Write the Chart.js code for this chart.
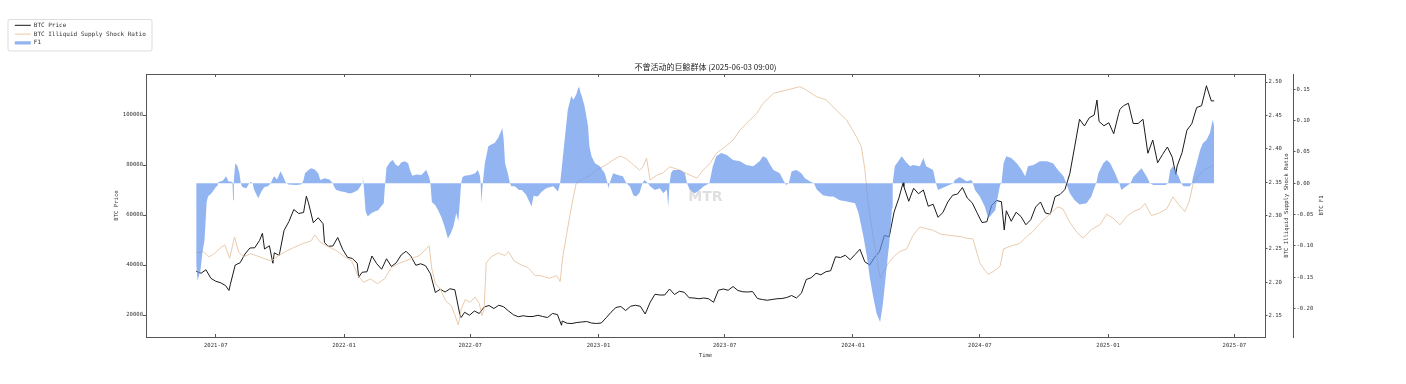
<!DOCTYPE html>
<html>
<head>
<meta charset="utf-8">
<script src="https://cdn.jsdelivr.net/npm/chart.js@4.4.1/dist/chart.umd.min.js"></script>
<style>
html,body{margin:0;padding:0;background:#fff;}
#wrap{width:1406px;height:384px;}
</style>
</head>
<body>
<div id="wrap"><canvas id="c" width="1406" height="384"></canvas></div>
<script>
// ---------------- data ----------------
const chartTitle = '不曾活动的巨鲸群体 (2025-06-03 09:00)';
const seriesNames = ['BTC Price', 'BTC Illiquid Supply Shock Ratio', 'F1'];
const axisTitles = { x: 'Time', price: 'BTC Price', ratio: 'BTC Illiquid Supply Shock Ratio', f1: 'BTC F1' };
const watermark = 'MTR';

// x values are days counted from baseDate
const baseDate = '2021-07-01';
const xTickLabels = ['2021-07','2022-01','2022-07','2023-01','2023-07','2024-01','2024-07','2025-01','2025-07'];
const priceTicks = [20000, 40000, 60000, 80000, 100000];
const ratioTicks = [2.15, 2.20, 2.25, 2.30, 2.35, 2.40, 2.45, 2.50];
const f1Ticks = [-0.20, -0.15, -0.10, -0.05, 0.00, 0.05, 0.10, 0.15];

// BTC price, weekly from 2021-06-03 (day -28)
const priceFirstDay = -28;
const priceStepDays = 7;
const priceWeekly = [
  37500, 36700, 38100, 34700, 33500, 32900, 31800, 32300, 40000, 40900, 44400, 46800, 46900, 49900, 46400, 47700,
  44900, 43800, 53800, 57400, 62200, 60600, 61000, 64900, 56900, 58900, 56500, 47500, 47600, 51000, 46300,
  43100, 42600, 40700, 37100, 37300, 43600, 40500, 38300, 42500, 39400, 40900, 44000, 45500, 43500, 39900, 40500,
  39700, 36500, 29000, 30300, 29200, 30500, 30100, 20400, 21100, 19900, 21600, 20600, 23200, 23800, 22600, 23900,
  23300, 21600, 20100, 19300, 19700, 19400, 19400, 19900, 19400, 19000, 20600, 20200, 17600, 16700, 16600, 17000,
  17200, 17400, 16800, 16600,
  16800, 18900, 21100, 23000, 23400, 21800, 23500, 23900, 23500, 20400, 25000, 28300, 28000, 28000, 30400, 28200,
  29500, 29100, 26900, 26800, 26500, 26800, 26500, 25100, 29900, 30400, 29900, 31400, 29800, 29300, 29200, 29400,
  26600, 26200, 25900, 26200, 26500, 26600, 27000, 27800, 26800, 28700, 34200, 34900, 36700, 36100, 37300, 37700,
  43300, 43000, 43900, 42100,
  44200, 46300, 41300, 40000, 43100, 45300, 51800, 51300, 61200, 66900, 71400, 65500, 70700, 68500, 70000, 63500,
  64300, 59100, 61000, 65200, 67900, 68400, 71000, 66800, 64900, 60900, 57000, 57300, 63900, 65800, 65300, 61700,
  57500, 61100, 59400, 56100, 58100, 63200, 65200, 60800, 60300, 67400, 68200, 70200, 76500, 87300, 98300, 95600,
  98900, 100000, 97400, 95700,
  96900, 92500, 100500, 103700, 104700, 96600, 96600, 98300, 84700, 90000, 80900, 84200, 87200, 83100, 79600, 84900,
  93900, 96500, 103000, 103700, 111700, 105600
];
// extra daily highs/lows visible in the picture, plus the last point (2025-06-02): [day, price]
const priceExtremes = [
  [19,29800],[67,52700],[82,40700],[130,67500],[156,49000],[205,35100],[352,19000],[496,15900],
  [986,73000],[1131,54000],[1264,106000],[1297,102300],[1377,76300],[1432,105700]
];

// BTC Illiquid Supply Shock Ratio: [day, value]
const ratioSeries = [
  [-28,2.244],[-18,2.246],[-10,2.238],[-3,2.242],[5,2.250],[13,2.256],[20,2.236],[27,2.268],[33,2.245],[40,2.238],
  [50,2.243],[58,2.240],[68,2.236],[80,2.232],[90,2.240],[100,2.246],[112,2.252],[125,2.258],[137,2.262],[142,2.271],
  [150,2.260],[160,2.254],[172,2.248],[185,2.238],[195,2.232],[204,2.210],[212,2.200],[222,2.205],[232,2.198],[242,2.205],
  [252,2.222],[262,2.228],[272,2.232],[282,2.236],[292,2.240],[302,2.250],[306,2.255],[310,2.220],[315,2.198],[322,2.190],
  [330,2.172],[338,2.165],[344,2.148],[348,2.136],[352,2.160],[358,2.174],[365,2.170],[372,2.178],[378,2.168],[382,2.150],
  [385,2.160],[388,2.229],[395,2.238],[405,2.244],[415,2.240],[420,2.246],[428,2.232],[438,2.226],[448,2.222],[458,2.210],
  [465,2.210],[479,2.206],[489,2.210],[494,2.201],[498,2.240],[503,2.270],[508,2.300],[513,2.328],[517,2.348],[527,2.355],
  [537,2.360],[546,2.368],[560,2.376],[570,2.383],[580,2.389],[589,2.385],[599,2.376],[608,2.368],[613,2.373],[618,2.386],
  [623,2.353],[632,2.360],[642,2.364],[651,2.373],[666,2.368],[675,2.363],[690,2.356],[699,2.368],[709,2.378],[718,2.393],
  [733,2.405],[742,2.413],[752,2.428],[766,2.443],[776,2.453],[785,2.468],[800,2.483],[819,2.488],[838,2.493],[847,2.488],
  [862,2.478],[876,2.473],[890,2.458],[905,2.443],[919,2.418],[926,2.403],[931,2.370],[936,2.318],[943,2.268],[948,2.238],
  [953,2.206],[957,2.215],[965,2.229],[972,2.238],[981,2.246],[991,2.250],[1000,2.270],[1010,2.283],[1020,2.280],[1029,2.278],
  [1040,2.272],[1055,2.270],[1070,2.268],[1077,2.266],[1086,2.265],[1096,2.229],[1103,2.218],[1108,2.212],[1115,2.216],[1125,2.224],
  [1130,2.250],[1140,2.254],[1153,2.258],[1163,2.268],[1172,2.276],[1182,2.288],[1192,2.298],[1200,2.306],[1208,2.313],[1215,2.310],
  [1225,2.290],[1235,2.275],[1244,2.266],[1256,2.279],[1268,2.286],[1278,2.302],[1287,2.296],[1297,2.286],[1306,2.298],[1316,2.306],
  [1326,2.310],[1333,2.318],[1342,2.300],[1352,2.303],[1364,2.310],[1373,2.328],[1380,2.318],[1390,2.306],[1396,2.320],[1402,2.348],
  [1410,2.360],[1420,2.370],[1432,2.375]
];

// F1: [day, value]
const f1Series = [
  [-28,-0.130],[-26,-0.155],[-22,-0.140],[-19,-0.110],[-16,-0.090],[-13,-0.030],[-11,-0.021],[-6,-0.016],[-1,-0.008],[2,-0.004],
  [3,0],[4,0.002],[10,0.004],[15,0.011],[18,0.003],[24,0.002],[25,-0.027],[26,0.004],[28,0.032],[31,0.028],
  [34,0.016],[36,0],[38,-0.006],[44,-0.008],[48,0],[50,0.002],[53,0],[55,-0.010],[61,-0.024],[66,-0.012],
  [70,-0.006],[75,-0.005],[79,0],[82,0.008],[84,0.011],[88,0.006],[93,0.019],[97,0.010],[100,0.002],[102,0],
  [104,-0.002],[115,-0.003],[122,-0.002],[124,0],[126,0.005],[128,0.016],[133,0.021],[137,0.024],[142,0.022],[147,0.016],
  [150,0.005],[156,0.008],[163,0.006],[168,0],[170,-0.006],[173,-0.011],[180,-0.013],[185,-0.014],[190,-0.016],[195,-0.016],
  [200,-0.013],[204,-0.011],[208,-0.004],[210,0],[211,0.011],[212,0],[215,-0.045],[218,-0.053],[223,-0.048],[228,-0.045],
  [233,-0.043],[238,-0.036],[241,-0.032],[243,0],[245,0.025],[250,0.034],[254,0.037],[258,0.030],[262,0.027],[266,0.033],
  [271,0.035],[276,0.032],[279,0.020],[282,0.012],[288,0.014],[295,0.013],[300,0.019],[302,0.021],[306,0.010],[308,0],
  [310,-0.030],[315,-0.035],[319,-0.043],[324,-0.055],[328,-0.068],[333,-0.088],[337,-0.080],[341,-0.069],[345,-0.048],[348,-0.060],
  [350,-0.032],[352,0],[354,0.010],[357,0.012],[365,0.013],[372,0.016],[376,0.021],[379,0.012],[380,0],[381,-0.032],
  [383,0],[386,0.032],[391,0.059],[396,0.062],[400,0.064],[405,0.072],[409,0.082],[411,0.088],[413,0.070],[415,0.032],
  [419,0.016],[422,0],[424,-0.005],[429,-0.005],[435,-0.011],[439,-0.011],[445,-0.018],[450,-0.030],[453,-0.037],[456,-0.020],
  [462,-0.021],[467,-0.014],[474,-0.008],[484,-0.005],[491,-0.013],[494,0],[496,0.021],[501,0.075],[505,0.117],[510,0.139],
  [513,0.133],[517,0.141],[520,0.152],[521,0.156],[523,0.145],[525,0.139],[529,0.123],[534,0.091],[536,0.059],[539,0.043],
  [544,0.032],[551,0.027],[558,0.016],[562,0],[563,-0.008],[565,0],[570,0.016],[577,0.013],[584,0.011],[589,0],
  [594,-0.005],[599,-0.019],[603,-0.021],[608,-0.015],[612,0],[615,0.005],[620,0],[623,-0.005],[630,-0.011],[637,-0.008],
  [642,-0.016],[647,-0.010],[649,-0.037],[651,0],[653,0.016],[656,0.021],[662,0.021],[666,0.021],[673,0.016],[676,0],
  [680,-0.011],[687,-0.016],[694,-0.011],[700,-0.005],[708,0],[713,0.027],[718,0.043],[725,0.048],[733,0.045],[742,0.037],
  [752,0.035],[761,0.029],[771,0.027],[780,0.035],[785,0.043],[790,0.040],[795,0.030],[800,0.021],[809,0.016],[814,0.005],
  [818,-0.003],[822,0],[826,0.019],[833,0.021],[840,0.016],[845,0.008],[852,0.003],[858,0],[862,-0.010],[871,-0.019],
  [880,-0.021],[886,-0.021],[895,-0.027],[905,-0.029],[917,-0.032],[922,-0.048],[929,-0.085],[934,-0.117],[938,-0.149],[943,-0.181],
  [948,-0.208],[953,-0.221],[957,-0.192],[962,-0.138],[967,-0.085],[970,-0.040],[971,0],[974,0.027],[979,0.035],[984,0.043],
  [990,0.034],[996,0.027],[1000,0.029],[1010,0.027],[1015,0.040],[1019,0.027],[1029,0.021],[1033,0],[1036,-0.011],[1048,-0.005],
  [1058,0],[1060,0.005],[1067,0.010],[1077,0.003],[1084,0.005],[1086,0],[1089,-0.011],[1096,-0.021],[1103,-0.037],[1108,-0.056],
  [1113,-0.050],[1118,-0.043],[1122,-0.020],[1125,-0.003],[1127,0],[1130,0.032],[1134,0.043],[1141,0.040],[1149,0.032],[1156,0.021],
  [1161,0.011],[1165,0.027],[1173,0.029],[1182,0.035],[1192,0.035],[1201,0.032],[1208,0.021],[1216,0.011],[1220,0],[1225,-0.016],
  [1232,-0.027],[1239,-0.034],[1249,-0.032],[1256,-0.021],[1261,-0.005],[1263,0],[1266,0.016],[1273,0.032],[1278,0.037],[1283,0.032],
  [1290,0.016],[1294,0.005],[1296,0],[1299,-0.011],[1306,-0.005],[1312,0],[1316,0.010],[1321,0.016],[1328,0.024],[1335,0.011],
  [1340,0],[1345,-0.003],[1362,-0.003],[1366,0],[1369,0.021],[1373,0.027],[1381,0.011],[1385,0],[1388,-0.005],[1397,-0.005],
  [1400,0],[1402,0.011],[1407,0.032],[1412,0.053],[1416,0.064],[1421,0.069],[1426,0.080],[1430,0.101],[1432,0.091]
];

// ---------------- build ----------------
const dayOf = s => {
  const p = s.split('-').map(Number);
  const b = baseDate.split('-').map(Number);
  return Math.round((Date.UTC(p[0], p[1] - 1, p[2] || 1) - Date.UTC(b[0], b[1] - 1, b[2])) / 86400000);
};
const xTickDays = xTickLabels.map(dayOf);

const pricePoints = priceWeekly.map((v, i) => ({ x: priceFirstDay + priceStepDays * i, y: v }))
  .concat(priceExtremes.map(([d, v]) => ({ x: d, y: v })))
  .sort((a, b) => a.x - b.x);
const ratioPoints = ratioSeries.map(([d, v]) => ({ x: d, y: v }));
const f1Points = f1Series.map(([d, v]) => ({ x: d, y: v }));

const MONO = "'DejaVu Sans Mono','Liberation Mono',monospace";
const AXIS = '#555';
const TXT = '#333';
const PRICE_COLOR = '#1a1a1a';
const RATIO_COLOR = 'rgb(233,203,172)';
const F1_COLOR = 'rgba(100,149,237,0.7)';
const tickFont = { family: MONO, size: 5.6 };

const setTicks = list => axis => { axis.ticks = list.map(v => ({ value: v })); };

const extras = {
  id: 'extras',
  beforeDraw(chart) {
    // let the legend text run past the narrow legend box (box kept narrow for layout only)
    const lg = chart.legend;
    if (lg) { lg.right = lg.left + 150; lg.width = 150; }
    const ctx = chart.ctx;
    ctx.save();
    ctx.fillStyle = 'rgba(255,255,255,0.8)';
    ctx.strokeStyle = '#d4d4d4';
    ctx.lineWidth = 0.8;
    ctx.beginPath();
    ctx.roundRect(8, 19.5, 144, 31.5, 2);
    ctx.fill();
    ctx.stroke();
    ctx.restore();
  },
  afterDraw(chart) {
    const ctx = chart.ctx;
    const a = chart.chartArea;
    const cy = (a.top + a.bottom) / 2;
    const vText = (text, x) => {
      ctx.save();
      ctx.translate(x, cy);
      ctx.rotate(-Math.PI / 2);
      ctx.textAlign = 'center';
      ctx.textBaseline = 'middle';
      ctx.font = '5.6px ' + MONO;
      ctx.fillStyle = TXT;
      ctx.fillText(text, 0, 0);
      ctx.restore();
    };
    vText(axisTitles.ratio, chart.scales.y1.right - 6);
    vText(axisTitles.f1, chart.scales.y2.left + 29);
    ctx.save();
    ctx.font = "bold 14px 'DejaVu Sans', sans-serif";
    ctx.fillStyle = 'rgba(150,150,150,0.3)';
    ctx.textAlign = 'center';
    ctx.textBaseline = 'middle';
    ctx.fillText(watermark, (a.left + a.right) / 2, 197);
    ctx.restore();
  }
};

new Chart(document.getElementById('c'), {
  type: 'line',
  data: {
    datasets: [
      { label: seriesNames[0], data: pricePoints, yAxisID: 'y', xAxisID: 'x', borderColor: PRICE_COLOR,
        borderWidth: 1, pointRadius: 0, tension: 0, fill: false, order: 2 },
      { label: seriesNames[1], data: ratioPoints, yAxisID: 'y1', xAxisID: 'x', borderColor: RATIO_COLOR,
        borderWidth: 1, pointRadius: 0, tension: 0, fill: false, order: 1 },
      { label: seriesNames[2], data: f1Points, yAxisID: 'y2', xAxisID: 'x', borderColor: 'rgba(0,0,0,0)',
        backgroundColor: F1_COLOR, borderWidth: 0, pointRadius: 0, tension: 0, fill: 'origin', order: 0 }
    ]
  },
  options: {
    responsive: false,
    animation: false,
    devicePixelRatio: 1,
    events: [],
    layout: { autoPadding: false, padding: { left: 12, top: 19.5, right: 68, bottom: 25 } },
    plugins: {
      tooltip: { enabled: false },
      title: {
        display: true, text: chartTitle, position: 'top', fullSize: false, color: '#222',
        font: { family: "'Noto Sans CJK SC', sans-serif", size: 8, weight: 'normal', lineHeight: 1.2 },
        padding: { top: 42.9, bottom: 0 }
      },
      legend: {
        display: true, position: 'left', align: 'start', fullSize: true, maxWidth: 98,
        labels: {
          usePointStyle: true, pointStyleWidth: 16, boxHeight: 3.4, padding: 2.8, color: TXT,
          font: { family: MONO, size: 6 },
          generateLabels: () => [
            { text: seriesNames[0], strokeStyle: PRICE_COLOR, fillStyle: PRICE_COLOR, lineWidth: 1, pointStyle: 'line', hidden: false, datasetIndex: 0, fontColor: TXT },
            { text: seriesNames[1], strokeStyle: RATIO_COLOR, fillStyle: RATIO_COLOR, lineWidth: 1, pointStyle: 'line', hidden: false, datasetIndex: 1, fontColor: TXT },
            { text: seriesNames[2], strokeStyle: 'rgba(0,0,0,0)', fillStyle: F1_COLOR, lineWidth: 0, pointStyle: 'rect', hidden: false, datasetIndex: 2, fontColor: TXT }
          ]
        }
      }
    },
    scales: {
      x: {
        type: 'linear', position: 'bottom', min: -100, max: 1505, bounds: 'data',
        afterBuildTicks: setTicks(xTickDays),
        afterFit: s => { s.height = 22; },
        ticks: { callback: v => { const i = xTickDays.indexOf(v); return i >= 0 ? xTickLabels[i] : ''; },
                 font: tickFont, color: TXT, padding: 8, maxRotation: 0, autoSkip: false },
        grid: { drawOnChartArea: false, drawTicks: true, tickLength: -3, color: AXIS },
        border: { display: true, color: AXIS, width: 1 },
        title: { display: true, text: axisTitles.x, font: tickFont, color: TXT, padding: { top: 0, bottom: 0.4 } }
      },
      xTop: {
        type: 'linear', position: 'top', min: -100, max: 1505, bounds: 'data',
        afterBuildTicks: setTicks(xTickDays),
        afterFit: s => { s.height = 2; },
        ticks: { display: false },
        grid: { drawOnChartArea: false, drawTicks: true, tickLength: -3, color: AXIS },
        border: { display: true, color: AXIS, width: 1 }
      },
      y: {
        type: 'linear', position: 'left', min: 11200, max: 116400, bounds: 'data',
        afterBuildTicks: setTicks(priceTicks),
        afterFit: s => { s.width = 36; },
        ticks: { callback: v => String(v), font: tickFont, color: TXT, padding: 0 },
        grid: { drawOnChartArea: false, drawTicks: true, tickLength: 3, color: AXIS },
        border: { display: true, color: AXIS, width: 1 },
        title: { display: true, text: axisTitles.price, font: tickFont, color: TXT, padding: { top: 3, bottom: 0 } }
      },
      y1: {
        type: 'linear', position: 'right', weight: 1, min: 2.118, max: 2.512, bounds: 'data',
        afterBuildTicks: setTicks(ratioTicks),
        afterFit: s => { s.width = 28; },
        ticks: { callback: v => Number(v).toFixed(2), font: tickFont, color: TXT, padding: 1 },
        grid: { drawOnChartArea: false, drawTicks: true, tickLength: 2.5, color: AXIS },
        border: { display: true, color: AXIS, width: 1 }
      },
      y2: {
        type: 'linear', position: 'right', weight: 2, min: -0.245, max: 0.174, bounds: 'data',
        afterBuildTicks: setTicks(f1Ticks),
        afterFit: s => { s.width = 45; },
        ticks: { callback: v => Number(v).toFixed(2), font: tickFont, color: TXT, padding: 1 },
        grid: { drawOnChartArea: false, drawTicks: true, tickLength: 2.5, color: AXIS },
        border: { display: true, color: AXIS, width: 1 }
      }
    }
  },
  plugins: [extras]
});
</script>
</body>
</html>
